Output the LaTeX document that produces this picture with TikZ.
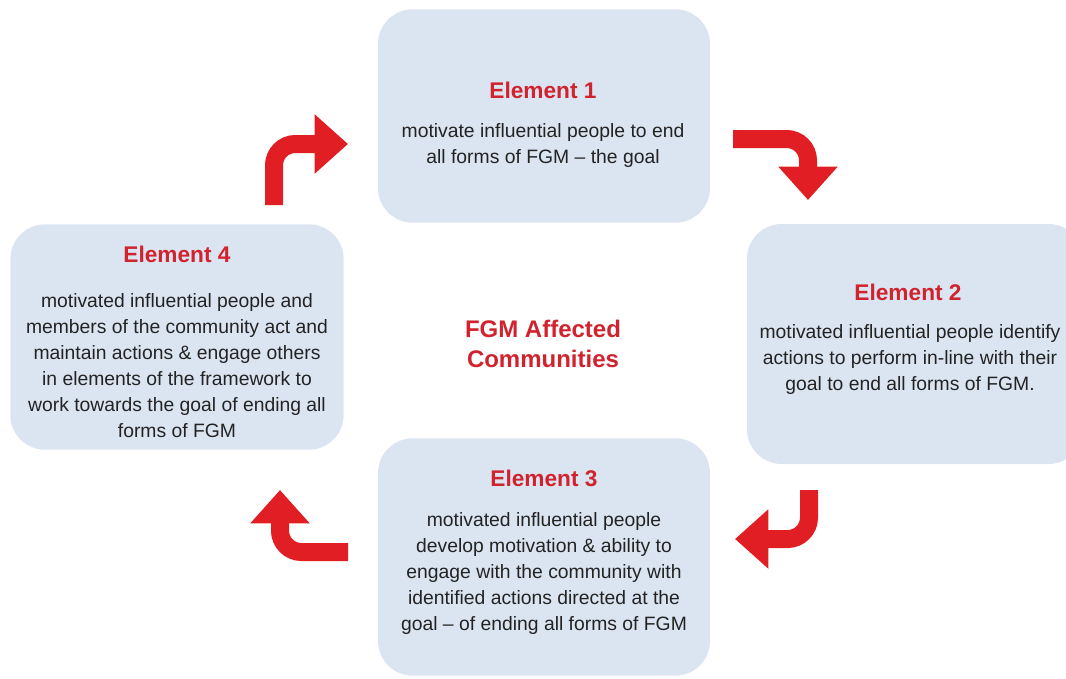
\documentclass[tikz,border=0pt]{standalone}
\usepackage{fontspec}
\setmainfont{Liberation Sans}
\usepackage{xcolor}
\usetikzlibrary{arrows.meta}

\definecolor{boxblue}{RGB}{219,229,242}
\definecolor{titlered}{RGB}{209,35,45}
\definecolor{arrowred}{RGB}{224,30,36}
\definecolor{bodygray}{RGB}{35,35,35}

\tikzset{
  elembox/.style={fill=boxblue, rounded corners=26pt, inner sep=0pt},
  elemtitle/.style={text=titlered, font=\bfseries\fontsize{17}{20}\selectfont},
  elembody/.style={text=bodygray, align=center, inner sep=0pt,
    font=\fontsize{14.5}{19.5}\selectfont},
  bentarrow/.style={draw=arrowred, line width=13.5pt, rounded corners=16pt,
    -{Triangle[length=25pt, width=43pt]}}
}

\begin{document}
\begin{tikzpicture}[x=0.75pt, y=-0.75pt]
    \useasboundingbox (0,0) rectangle (1066,678);
    \clip (0,0) rectangle (1066,678);

    % Les quatre boites
    \node[elembox, minimum width=249pt, minimum height=160pt] (box1) at (544,116) {};
    \node[elembox, minimum width=252pt, minimum height=180pt] (box2) at (915,344) {};
    \node[elembox, minimum width=249pt, minimum height=178pt] (box3) at (544,557) {};
    \node[elembox, minimum width=250pt, minimum height=169pt] (box4) at (177,337) {};

    % Element 1
    \node[elemtitle] (title1) at (543,90) {Element 1};
    \node[elembody] (body1) at (543,145) {motivate influential people to end\\
        all forms of FGM -- the goal};

    % Element 2
    \node[elemtitle] (title2) at (908,292) {Element 2};
    \node[elembody] (body2) at (910,359) {motivated influential people identify\\
        actions to perform in-line with their\\
        goal to end all forms of FGM.};

    % Element 3
    \node[elemtitle] (title3) at (544,478) {Element 3};
    \node[elembody] (body3) at (544,573) {motivated influential people\\
        develop motivation \& ability to\\
        engage with the community with\\
        identified actions directed at the\\
        goal -- of ending all forms of FGM};

    % Element 4
    \node[elemtitle] (title4) at (177,254) {Element 4};
    \node[elembody] (body4) at (177,366) {motivated influential people and\\
        members of the community act and\\
        maintain actions \& engage others\\
        in elements of the framework to\\
        work towards the goal of ending all\\
        forms of FGM};

    % Texte central
    \node[text=titlered, align=center, font=\bfseries\fontsize{18}{23}\selectfont]
        (centre) at (543,344) {FGM Affected\\ Communities};

    % Les fleches courbes
    \draw[bentarrow] (274,205) |- (348,144);
    \draw[bentarrow] (733,139) -| (808,200);
    \draw[bentarrow] (809,490) |- (735,539);
    \draw[bentarrow] (348,552) -| (280,490);
\end{tikzpicture}
\end{document}
